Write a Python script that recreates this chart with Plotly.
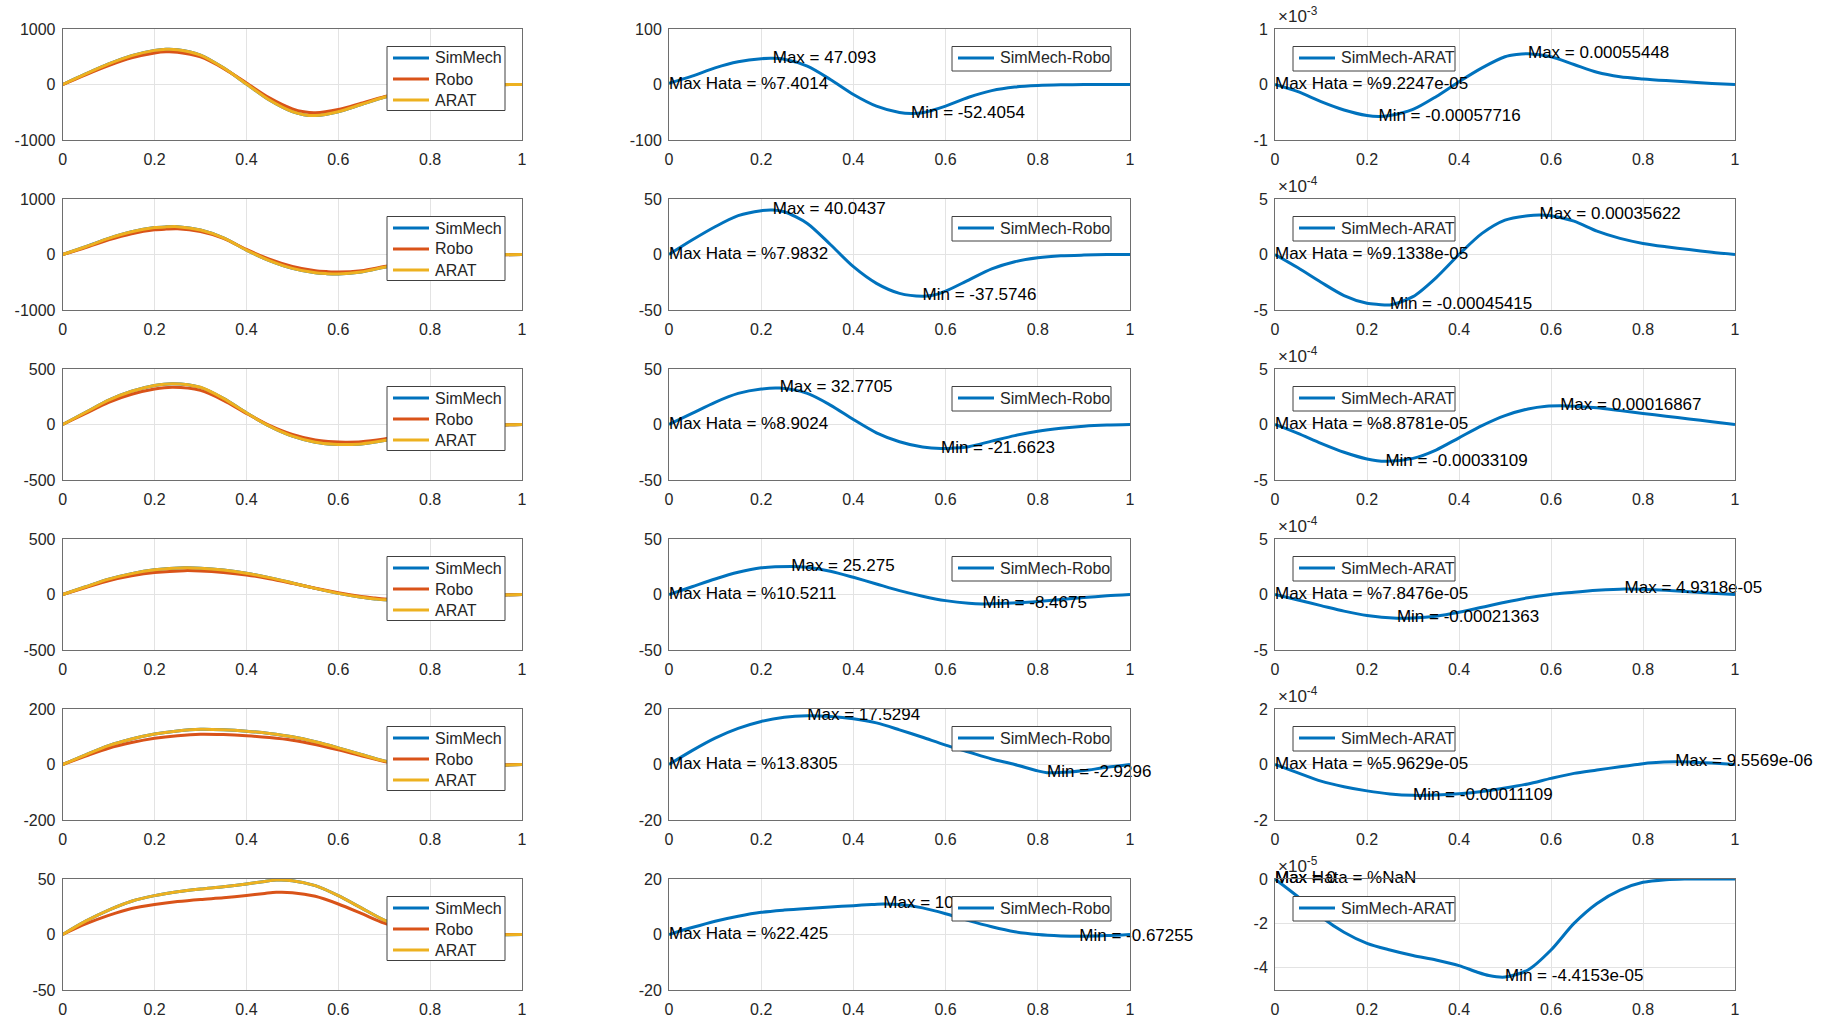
import numpy as np
import plotly.graph_objects as go

# ---------------- data: one time grid per row (normalised time 0..1) ----------------
t_1 = [0, .05, .1, .15, .2, .225, .25, .3, .35, .4, .45, .5, .525, .55, .6, .65, .7, .75, .8, .85, .9, .95, 1]
simmech_1 = [0, 190, 370, 520, 615, 636.3, 628, 530, 300, 10, -280, -490, -545, -560, -490, -360, -230, -130, -65, -28, -10, -3, 0]
err_robo_1 = [2, 15, 30, 41, 46.5, 47.093, 45.5, 33, 9, -18, -39, -50.5, -52.4054, -51, -39, -23, -11, -4.5, -1.8, -0.6, -0.2, 0, 0]
err_arat_1 = [0, -1.3e-4, -3.1e-4, -4.6e-4, -5.6e-4, -5.7716e-4, -5.6e-4, -4.5e-4, -2.2e-4, 0.5e-4, 3.0e-4, 5.0e-4,
              5.4e-4, 5.5448e-4, 5.0e-4, 3.6e-4, 2.2e-4, 1.4e-4, 1.0e-4, 0.7e-4, 0.45e-4, 0.2e-4, 0]

t_2 = [0, .05, .1, .15, .2, .225, .25, .3, .35, .4, .45, .5, .55, .575, .6, .65, .7, .75, .8, .85, .9, .95, 1]
simmech_2 = [0, 140, 290, 410, 485, 498, 501.6, 440, 300, 80, -110, -250, -330, -345, -350, -315, -230, -150, -85, -42, -17, -5, 0]
err_robo_2 = [0, 13, 25, 35, 39.5, 40.0437, 38.5, 28, 9, -11, -26, -35, -37.5746, -36.5, -33, -23, -13, -6.5, -3, -1.2, -0.5, -0.1, 0]
err_arat_2 = [0, -1.2e-4, -2.5e-4, -3.7e-4, -4.4e-4, -4.5e-4, -4.5415e-4, -3.8e-4, -2.1e-4, 0, 1.9e-4, 3.1e-4,
              3.5e-4, 3.5622e-4, 3.5e-4, 3.0e-4, 2.1e-4, 1.45e-4, 1.0e-4, 0.7e-4, 0.45e-4, 0.2e-4, 0]

t_3 = [0, .05, .1, .15, .2, .24, .3, .35, .4, .45, .5, .55, .59, .62, .65, .7, .75, .8, .85, .9, .95, 1]
simmech_3 = [0, 110, 220, 300, 352, 368.1, 335, 235, 105, -15, -105, -160, -178, -180, -175, -145, -105, -68, -38, -16, -5, 0]
err_robo_3 = [0, 10, 20, 28, 32, 32.7705, 28, 17.5, 4.5, -7.5, -15.5, -20.3, -21.6623, -21.2, -20, -15, -10, -6, -3.3, -1.5, -0.5, 0]
err_arat_3 = [0, -0.8e-4, -1.7e-4, -2.5e-4, -3.1e-4, -3.3109e-4, -3.05e-4, -2.3e-4, -1.2e-4, -0.1e-4, 0.8e-4, 1.4e-4,
              1.65e-4, 1.6867e-4, 1.65e-4, 1.5e-4, 1.25e-4, 1.0e-4, 0.75e-4, 0.5e-4, 0.25e-4, 0]

t_4 = [0, .05, .1, .15, .2, .265, .3, .35, .4, .45, .5, .55, .6, .65, .68, .7, .76, .8, .85, .9, .95, 1]
simmech_4 = [0, 70, 138, 188, 222, 240.2, 237, 220, 192, 152, 104, 55, 10, -25, -40, -48, -55, -47, -32, -16, -6, 0]
err_robo_4 = [0, 7, 14, 20, 24, 25.275, 24.6, 21, 15.5, 9.5, 3.5, -1.5, -5.5, -7.9, -8.4675, -8.3, -7.3, -6.2, -4.5, -2.8, -1.2, 0]
err_arat_4 = [0, -0.5e-4, -1.0e-4, -1.5e-4, -1.9e-4, -2.1363e-4, -2.12e-4, -1.95e-4, -1.6e-4, -1.15e-4, -0.7e-4, -0.3e-4,
              0.0, 0.2e-4, 0.32e-4, 0.38e-4, 0.49318e-4, 0.47e-4, 0.38e-4, 0.25e-4, 0.12e-4, 0]

t_5 = [0, .05, .1, .15, .2, .25, .3, .35, .4, .45, .5, .55, .6, .65, .7, .75, .8, .82, .87, .9, .95, 1]
simmech_5 = [0, 35, 68, 92, 110, 121, 126.7, 125, 120, 112, 100, 82, 60, 36, 13, -2, -9, -10, -9, -7, -3, 0]
err_robo_5 = [0, 5, 9.5, 13, 15.5, 17, 17.5294, 17.3, 16.5, 15, 12.5, 9.8, 7, 4.5, 2, 0, -2.3, -2.9296, -2.7, -2.2, -1, 0]
err_arat_5 = [0, -0.3e-4, -0.6e-4, -0.8e-4, -0.95e-4, -1.06e-4, -1.1109e-4, -1.1e-4, -1.05e-4, -0.97e-4, -0.85e-4, -0.7e-4,
              -0.5e-4, -0.32e-4, -0.2e-4, -0.08e-4, 0.03e-4, 0.06e-4, 0.095569e-4, 0.09e-4, 0.05e-4, 0]

t_6 = [0, .05, .1, .15, .2, .25, .3, .35, .4, .44, .465, .5, .55, .6, .65, .7, .75, .8, .85, .89, .9, .95, 1]
simmech_6 = [0, 12, 22, 30, 35, 38.5, 41, 43, 45.5, 47.8, 49.0, 48.5, 44, 35, 24, 13, 5, 1, -0.5, -0.65, -0.6, -0.3, 0]
err_robo_6 = [0, 2.5, 4.8, 6.6, 8, 8.8, 9.4, 9.9, 10.4, 10.8, 10.989, 10.8, 9.6, 7.5, 5, 2.8, 1.0, 0, -0.5, -0.67255, -0.65, -0.4, 0]
err_arat_6 = [0, -0.8e-5, -1.7e-5, -2.4e-5, -2.9e-5, -3.2e-5, -3.45e-5, -3.65e-5, -3.9e-5, -4.2e-5, -4.35e-5, -4.4153e-5,
              -4.1e-5, -3.2e-5, -2.0e-5, -1.1e-5, -0.5e-5, -0.15e-5, -0.03e-5, 0, 0, 0, 0]

# percentage errors printed in each error panel
max_hata_robo = [7.4014, 7.9832, 8.9024, 10.5211, 13.8305, 22.425]
max_hata_arat = [9.2247e-05, 9.1338e-05, 8.8781e-05, 7.8476e-05, 5.9629e-05, float("nan")]

# symmetric y limits per row for each column
col1_lim = [1000, 1000, 500, 500, 200, 50]
col2_lim = [100, 50, 50, 50, 20, 20]
col3_lim = [1e-3, 5e-4, 5e-4, 5e-4, 2e-4, None]
col3_exp = [-3, -4, -4, -4, -4, -5]

x_ticks = [0, 0.2, 0.4, 0.6, 0.8, 1]
x_ticktext = ["0", "0.2", "0.4", "0.6", "0.8", "1"]

legend_names = [["SimMech", "Robo", "ARAT"], ["SimMech-Robo"], ["SimMech-ARAT"]]

rows = [
    (t_1, simmech_1, err_robo_1, err_arat_1),
    (t_2, simmech_2, err_robo_2, err_arat_2),
    (t_3, simmech_3, err_robo_3, err_arat_3),
    (t_4, simmech_4, err_robo_4, err_arat_4),
    (t_5, simmech_5, err_robo_5, err_arat_5),
    (t_6, simmech_6, err_robo_6, err_arat_6),
]

BLUE, ORANGE, YELLOW = "#0072BD", "#D95319", "#EDB120"
FONT = "Liberation Sans, Arial, Helvetica, sans-serif"
TXT = "#262626"

W, H = 1821, 1022

# panel geometry in page pixels
col_px = [(62.7, 522.0), (669.0, 1130.0), (1275.0, 1735.0)]
ROW_TOP, ROW_PITCH, ROW_H = 29.0, 170.0, 111.0


def px(x):
    return x / W


def py(y):
    return 1 - y / H


def num2str(v):
    if v != v:
        return "NaN"
    if v == 0:
        return "0"
    d = max(int(np.floor(np.log10(abs(v)))) + 5, 5)
    return f"{v:.{d}g}"


def tick_str(v):
    return f"{v:g}"


fig = go.Figure()
layout = dict(
    template="none",
    width=W, height=H, margin=dict(l=0, r=0, t=0, b=0, autoexpand=False),
    paper_bgcolor="white", plot_bgcolor="white",
    font=dict(family=FONT, size=16, color=TXT),
    showlegend=False,
)
annotations = []
shapes = []

for r, (t, sm, e_robo, e_arat) in enumerate(rows):
    t = np.array(t, dtype=float)
    sm = np.array(sm, dtype=float)
    e_robo = np.array(e_robo, dtype=float)
    e_arat = np.array(e_arat, dtype=float)
    robo = sm - e_robo
    arat = sm - e_arat

    top = ROW_TOP + ROW_PITCH * r
    ydom = [py(top + ROW_H), py(top)]

    for c in range(3):
        k = r * 3 + c + 1
        xa = "x" if k == 1 else f"x{k}"
        ya = "y" if k == 1 else f"y{k}"
        x0, x1 = col_px[c]

        if c == 0:
            series = [(sm, BLUE), (robo, ORANGE), (arat, YELLOW)]
            lim = col1_lim[r]
            yr = [-lim, lim]
            tv = [-lim, 0, lim]
            tt = [tick_str(v) for v in tv]
        elif c == 1:
            series = [(e_robo, BLUE)]
            lim = col2_lim[r]
            yr = [-lim, lim]
            tv = [-lim, 0, lim]
            tt = [tick_str(v) for v in tv]
        else:
            series = [(e_arat, BLUE)]
            lim = col3_lim[r]
            sc = 10.0 ** col3_exp[r]
            if lim is None:
                yr = [-5e-5, 0]
                tv = [-4e-5, -2e-5, 0]
            else:
                yr = [-lim, lim]
                tv = [-lim, 0, lim]
            tt = [tick_str(round(v / sc, 6)) for v in tv]

        for (y, col), name in zip(series, legend_names[c]):
            fig.add_trace(go.Scatter(
                x=t, y=y, name=name, mode="lines",
                line=dict(color=col, width=3, shape="spline", smoothing=0.8),
                xaxis=xa, yaxis=ya, hoverinfo="skip",
            ))

        if c > 0:
            y = series[0][0]
            i_max = int(np.argmax(y))
            i_min = int(np.argmin(y))
            hata = max_hata_robo[r] if c == 1 else max_hata_arat[r]
            lx, ly, lt = [], [], []
            lx.append(t[i_max]); ly.append(y[i_max]); lt.append("Max = " + num2str(y[i_max]))
            if y[i_min] < 0:
                lx.append(t[i_min]); ly.append(y[i_min]); lt.append("Min = " + num2str(y[i_min]))
            lx.append(0.0); ly.append(0.0); lt.append("Max Hata = %" + num2str(hata))
            fig.add_trace(go.Scatter(
                x=lx, y=ly, text=lt, mode="text", textposition="middle right",
                textfont=dict(family=FONT, size=17, color="black"),
                cliponaxis=False, showlegend=False, hoverinfo="skip",
                xaxis=xa, yaxis=ya,
            ))

        axis_common = dict(
            showline=True, mirror=True, linecolor="#6e6e6e", linewidth=1,
            showgrid=True, gridcolor="#e3e3e3", gridwidth=1, zeroline=False,
            ticks="", automargin=False,
            tickfont=dict(family=FONT, size=16, color=TXT),
        )
        layout["xaxis" if k == 1 else f"xaxis{k}"] = dict(
            axis_common, domain=[px(x0), px(x1)], range=[0, 1], anchor=ya,
            tickvals=x_ticks, ticktext=x_ticktext, ticklabelstandoff=5,
        )
        layout["yaxis" if k == 1 else f"yaxis{k}"] = dict(
            axis_common, domain=ydom, range=yr, anchor=xa,
            tickvals=tv, ticktext=tt, ticklabelstandoff=3,
        )

        # key box drawn above the curves and their labels
        if c == 0:
            bw, bh = 118, 64
            bx0 = x1 - 17 - bw
        elif c == 1:
            bw, bh = 159, 24.5
            bx0 = x1 - 19 - bw
        else:
            bw, bh = 162, 24.5
            bx0 = x0 + 18
        by0 = top + 17.5
        shapes.append(dict(
            type="rect", xref="paper", yref="paper", layer="above",
            x0=px(bx0), x1=px(bx0 + bw), y0=py(by0 + bh), y1=py(by0),
            line=dict(color="#404040", width=1), fillcolor="white",
        ))
        for j, ((_, col), name) in enumerate(zip(series, legend_names[c])):
            yc = by0 + 11.5 + 21 * j
            shapes.append(dict(
                type="line", xref="paper", yref="paper", layer="above",
                x0=px(bx0 + 6), x1=px(bx0 + 42), y0=py(yc), y1=py(yc),
                line=dict(color=col, width=3),
            ))
            annotations.append(dict(
                xref="paper", yref="paper", x=px(bx0 + 46), y=py(yc),
                xanchor="left", yanchor="middle", showarrow=False, text=name,
                font=dict(family=FONT, size=16, color=TXT),
            ))

        if c == 2:
            annotations.append(dict(
                xref="paper", yref="paper", x=px(x0 + 1), y=py(top - 1),
                xanchor="left", yanchor="bottom", showarrow=False,
                text="\u00d710<sup>%d</sup>" % col3_exp[r],
                font=dict(family=FONT, size=17, color=TXT),
            ))

layout["annotations"] = annotations
layout["shapes"] = shapes
fig.update_layout(**layout)
fig.write_html("out.html")
